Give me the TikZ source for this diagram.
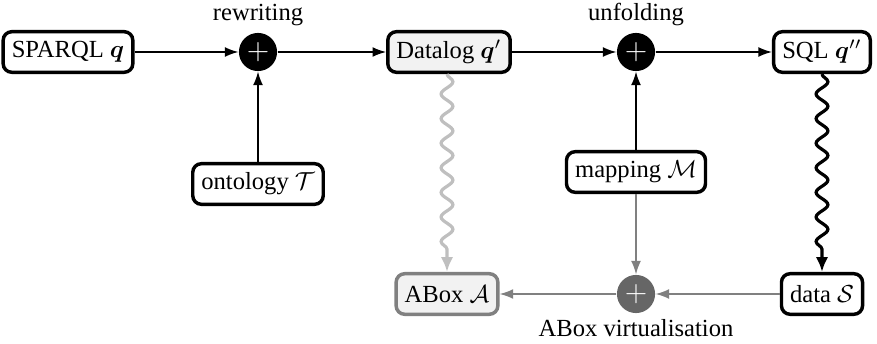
\documentclass[tikz,border=0pt]{standalone}
\usepackage{amsmath}
\usepackage{fontspec}
\setmainfont{Liberation Serif}
\usetikzlibrary{arrows.meta,decorations.pathmorphing}

\tikzset{
  box/.style={draw,line width=1.4pt,rounded corners=3.5pt,fill=white,minimum height=16.5pt,inner xsep=3.5pt},
  plusnode/.style={circle,fill=black,text=white,minimum size=15.5pt,inner sep=0pt,font=\large},
  flow/.style={-{Latex[length=5.5pt,width=4pt]},line width=0.6pt},
  wave/.style={decorate,decoration={snake,amplitude=2.4pt,segment length=10pt,post length=5pt},line width=1.3pt},
}

\begin{document}
\begin{tikzpicture}[x=0.4065pt,y=-0.4065pt]
	\useasboundingbox (0,0) rectangle (877,344);
	% top row
	\node[box] (sparql) at (68,52) {SPARQL $\boldsymbol{q}$};
	\node[plusnode,label={[label distance=-1pt,font=\normalsize]above:rewriting}] (rew) at (258,52) {$+$};
	\node[box,fill=gray!10] (datalog) at (449,52) {Datalog $\boldsymbol{q}'$};
	\node[plusnode,label={[label distance=-1pt,font=\normalsize]above:unfolding}] (unf) at (636,52) {$+$};
	\node[box] (sql) at (822,52) {SQL $\boldsymbol{q}''$};
	% middle row
	\node[box] (onto) at (258,184) {ontology $\mathcal{T}$};
	\node[box] (map) at (636,172) {mapping $\mathcal{M}$};
	% bottom row
	\node[box,draw=gray,fill=gray!10] (abox) at (447,294) {ABox $\mathcal{A}$};
	\node[plusnode,fill=black!60,label={[font=\normalsize,label distance=-1pt]below:ABox virtualisation}] (virt) at (636,294) {$+$};
	\node[box] (data) at (822,294) {data $\mathcal{S}$};
	% connectors
	\draw[flow] (sparql) -- (rew);
	\draw[flow] (rew) -- (datalog);
	\draw[flow] (onto) -- (rew);
	\draw[flow] (datalog) -- (unf);
	\draw[flow] (unf) -- (sql);
	\draw[flow] (map) -- (unf);
	\draw[flow,gray] (map) -- (virt);
	\draw[flow,gray] (data) -- (virt);
	\draw[flow,gray] (virt) -- (abox);
	\draw[wave,gray!50,-{Latex[length=6pt,width=5pt]}] (datalog.south -| abox.north) -- (abox.north);
	\draw[wave,-{Latex[length=6pt,width=5pt]}] (sql.south) -- (data.north);
\end{tikzpicture}
\end{document}
